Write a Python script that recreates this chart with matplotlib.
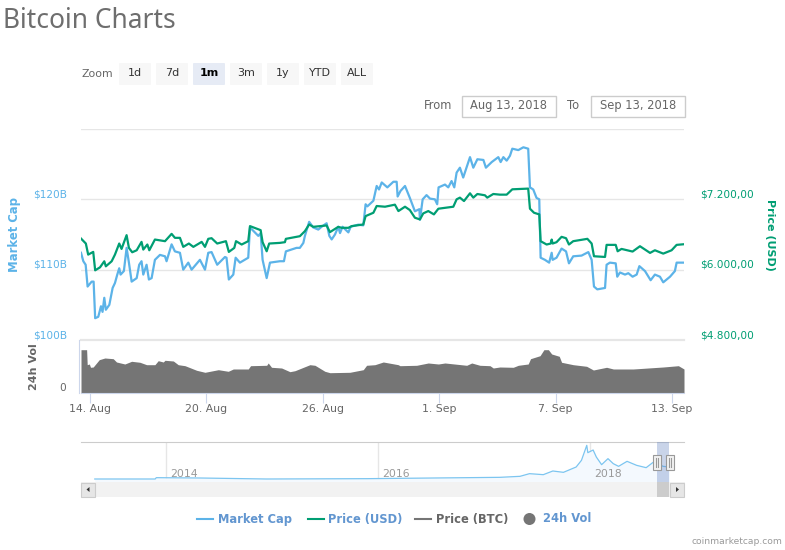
import matplotlib
matplotlib.use('Agg')
import matplotlib.pyplot as plt
from matplotlib.patches import Rectangle, FancyBboxPatch, Circle, Polygon
from matplotlib.transforms import ScaledTranslation

blue = '#5cb3e8'
green = '#009e73'
gray = '#757575'
text_gray = '#666666'
axis_blue = '#ccd6eb'
legend_blue = '#6296d0'

# days counted from 14 Aug 2018
cap_days = [-0.46, -0.34, -0.22, -0.12, 0.09, 0.19, 0.27, 0.43, 0.57, 0.65, 0.74, 0.82, 1.0, 1.17, 1.29, 1.41, 1.51, 1.58, 1.75, 1.89, 2.01, 2.15, 2.41, 2.54, 2.66, 2.75, 2.92, 3.04, 3.18, 3.35, 3.61, 3.87, 3.95, 4.21, 4.38, 4.64, 4.81, 5.07, 5.24, 5.67, 5.93, 6.1, 6.27, 6.56, 6.96, 7.04, 7.16, 7.39, 7.51, 7.73, 8.16, 8.25, 8.68, 8.8, 8.9, 9.11, 9.28, 9.79, 10.0, 10.1, 10.65, 10.82,
            11.0, 11.08, 11.3, 11.51, 11.77, 11.94, 12.2, 12.34, 12.46, 12.63, 12.8, 12.89, 13.02, 13.32, 13.44, 13.83, 14.09, 14.21, 14.3, 14.61, 14.78, 14.9, 15.04, 15.33, 15.64, 15.81, 15.86, 16.01, 16.24, 16.49, 16.75, 16.98, 17.01, 17.15, 17.35, 17.53, 17.78, 17.9, 17.97, 18.3, 18.47, 18.64, 18.78, 18.9, 19.07, 19.24, 19.59, 19.76, 19.97, 20.28, 20.41, 20.71, 21.05, 21.17, 21.31, 21.48, 21.65, 21.77, 22.08, 22.34, 22.59,
            22.68, 22.85, 23.02, 23.16, 23.23, 23.45, 23.67, 23.8, 23.85, 24.05, 24.31, 24.54, 24.69, 24.91, 25.34, 25.69, 25.86, 25.98, 26.15, 26.55, 26.63, 26.8, 27.1, 27.18, 27.32, 27.58, 27.75, 27.97, 28.18, 28.32, 28.61, 28.9, 29.12, 29.38, 29.55, 29.9, 30.15, 30.24, 30.62]
cap_values = [112.4, 111.2, 110.7, 107.6, 108.3, 108.3, 103.1, 103.3, 104.8, 104.0, 106.0, 104.3, 105.0, 107.4, 108.1, 109.3, 110.2, 109.3, 109.8, 113.1, 111.0, 108.3, 108.8, 110.7, 111.2, 109.3, 110.7, 108.6, 108.8, 111.4, 112.1, 111.9, 111.2, 113.6, 112.6, 112.4, 110.0, 111.0, 110.0, 111.4, 110.0, 112.4, 112.5, 110.7, 111.8, 111.7, 108.6, 109.3, 111.7, 111.0, 111.7, 116.0, 114.8, 115.2, 111.4, 108.8, 111.0, 111.2, 111.2, 112.6, 113.1, 113.1,
              113.8, 114.8, 116.8, 116.0, 115.7, 116.1, 116.6, 114.8, 114.3, 115.0, 116.1, 115.2, 116.1, 115.3, 116.1, 116.4, 116.3, 119.3, 119.0, 119.8, 121.9, 121.4, 122.4, 121.7, 122.5, 122.5, 120.4, 121.2, 121.9, 120.2, 118.3, 118.6, 117.1, 120.0, 120.6, 120.1, 120.0, 119.3, 121.7, 122.1, 121.7, 122.6, 121.7, 123.8, 124.5, 123.1, 126.0, 124.5, 125.7, 125.6, 124.5, 125.3, 126.0, 125.3, 126.0, 125.5, 126.2, 127.2, 127.0, 127.4, 127.2,
              121.7, 121.4, 120.2, 120.0, 111.7, 111.4, 111.0, 112.4, 111.4, 111.7, 113.0, 112.6, 110.9, 111.9, 112.0, 112.5, 111.4, 107.6, 107.2, 107.4, 110.7, 111.0, 110.9, 109.0, 109.6, 109.3, 109.5, 109.0, 109.3, 110.5, 109.8, 108.5, 109.3, 109.0, 108.2, 109.0, 109.8, 111.0, 111.0]

price_days = [-0.46, -0.21, -0.09, 0.17, 0.27, 0.52, 0.74, 0.82, 1.12, 1.29, 1.51, 1.63, 1.89, 2.01, 2.18, 2.41, 2.66, 2.75, 2.96, 3.06, 3.35, 3.87, 4.21, 4.38, 4.64, 4.81, 5.1, 5.33, 5.76, 5.93, 6.1, 6.27, 6.56, 7.01, 7.16, 7.44, 7.53, 7.82, 8.16, 8.25, 8.8, 8.9, 9.11, 9.24, 9.79, 10.05, 10.1, 10.82,
              11.08, 11.3, 11.51, 12.2, 12.37, 12.8, 12.97, 13.32, 13.49, 14.09, 14.21, 14.61, 14.78, 15.21, 15.72, 15.9, 16.24, 16.49, 16.75, 17.01, 17.18, 17.44, 17.73, 17.96, 18.73, 18.9, 19.07, 19.28, 19.59, 19.76, 19.97, 20.36, 20.48, 20.79, 21.13, 21.48, 21.77, 22.59,
              22.68, 22.89, 23.16, 23.23, 23.54, 23.75, 23.8, 23.85, 24.05, 24.31, 24.54, 24.69, 24.91, 25.64, 25.86, 25.98, 26.55, 26.63, 27.1, 27.2, 27.4, 27.97, 28.35, 28.87, 29.12, 29.55, 29.98, 30.24, 30.62]
price_values = [6531, 6446, 6257, 6303, 5989, 6040, 6143, 6057, 6143, 6257, 6446, 6354, 6589, 6371, 6297, 6331, 6474, 6343, 6429, 6331, 6514, 6486, 6611, 6543, 6543, 6389, 6446, 6389, 6474, 6389, 6526, 6537, 6446, 6486, 6303, 6371, 6486, 6429, 6486, 6743, 6674, 6469, 6314, 6446, 6457, 6469, 6526, 6571,
                6657, 6771, 6731, 6754, 6640, 6731, 6714, 6714, 6743, 6771, 6914, 6971, 7086, 7074, 7109, 7000, 7074, 7017, 6886, 6857, 6960, 7000, 6943, 7040, 7074, 7200, 7229, 7171, 7303, 7229, 7291, 7269, 7229, 7291, 7280, 7280, 7371, 7383,
                7040, 6971, 6943, 6486, 6429, 6446, 6514, 6446, 6469, 6560, 6537, 6429, 6486, 6526, 6446, 6229, 6217, 6423, 6423, 6314, 6354, 6309, 6400, 6286, 6331, 6274, 6331, 6423, 6434]

vol_days = [-0.46, -0.17, -0.14, -0.03, 0.03, 0.17, 0.48, 0.77, 1.2, 1.37, 1.8, 2.15, 2.58, 2.92, 3.35, 3.52, 3.78, 3.87, 4.3, 4.55, 4.9, 5.5, 5.93, 6.62, 7.13, 7.39, 8.16, 8.28, 9.11, 9.19, 9.36, 9.88, 10.31, 10.57, 11.34, 11.6, 12.11, 12.37, 13.4, 14.09, 14.26, 14.69, 15.12, 15.89,
            15.98, 16.84, 17.44, 17.96, 18.3, 19.42, 19.68, 20.1, 20.62, 20.79, 21.13, 21.82, 22.08, 22.59, 22.71, 23.2, 23.4, 23.63, 23.8, 24.19, 24.31, 24.91, 25.6, 25.95, 26.63, 26.98, 28.0, 29.55, 30.33, 30.62]
vol_values = [4.33, 4.33, 2.83, 2.9, 2.57, 2.6, 3.33, 3.5, 3.43, 3.1, 2.9, 3.17, 3.07, 2.83, 2.83, 3.23, 3.1, 3.27, 3.2, 2.83, 2.73, 2.27, 2.07, 2.33, 2.17, 2.4, 2.4, 2.73, 2.77, 3.0, 2.57, 2.5, 2.13, 2.23, 2.83, 2.77, 2.17, 2.03, 2.07, 2.33, 2.77, 2.83, 3.1, 2.83,
              2.73, 2.77, 3.0, 2.9, 3.0, 2.77, 3.0, 2.77, 2.73, 2.5, 2.6, 2.57, 2.77, 2.9, 3.43, 3.73, 4.33, 4.33, 3.9, 3.67, 3.07, 2.83, 2.67, 2.3, 2.57, 2.4, 2.4, 2.6, 2.73, 2.4]

overview_years = [2013.33, 2013.9, 2013.91, 2014.32, 2014.95, 2015.9, 2016.21, 2016.84, 2017.15, 2017.34, 2017.43, 2017.56, 2017.65, 2017.75, 2017.87, 2017.92, 2017.97, 2017.98, 2018.03, 2018.06, 2018.11, 2018.17, 2018.22, 2018.27, 2018.35, 2018.44, 2018.53, 2018.6, 2018.69, 2018.75]
overview_caps = [27, 27, 39, 36, 27, 30, 33, 39, 42, 51, 75, 66, 99, 87, 135, 195, 330, 264, 288, 225, 156, 210, 165, 141, 186, 150, 129, 180, 141, 135]

date_ticks = [0, 6, 12, 18, 24, 30]
date_labels = ['14. Aug', '20. Aug', '26. Aug', '1. Sep', '7. Sep', '13. Sep']
cap_ticks = [100, 110, 120, 130]
cap_labels = ['$100B', '$110B', '$120B', '']
price_ticks = [4800, 6000, 7200, 8400]
price_labels = ['$4.800,00', '$6.000,00', '$7.200,00', '']
overview_ticks = [2014, 2016, 2018]
zoom_buttons = ['1d', '7d', '1m', '3m', '1y', 'YTD', 'ALL']
W, H = 785, 550


def pixelAxes(fig, left, top, right, bottom):
    return fig.add_axes([left / W, 1 - bottom / H, (right - left) / W, (bottom - top) / H])


def hideSpines(ax):
    for spine in ax.spines.values():
        spine.set_visible(False)


fig = plt.figure(figsize=(W / 100, H / 100), dpi=100)

# main panel
ax = pixelAxes(fig, 81, 129, 684, 340)
hideSpines(ax)
ax.set_xlim(-0.46, 30.62)
ax.set_ylim(100, 130)
ax.set_xticks([])
ax.set_yticks(cap_ticks)
ax.set_yticklabels(cap_labels, color=blue, fontsize=7.6)
ax.tick_params(axis='y', length=0, pad=10)
ax.grid(axis='y', color='#e6e6e6', linewidth=1)
ax.set_axisbelow(True)
ax.plot(cap_days, cap_values, color=blue, linewidth=1.6)

ax2 = ax.twinx()
hideSpines(ax2)
ax2.set_ylim(4800, 8400)
ax2.set_yticks(price_ticks)
ax2.set_yticklabels(price_labels, color=green, fontsize=7.6)
ax2.tick_params(axis='y', length=0, pad=11.5)
ax2.plot(price_days, price_values, color=green, linewidth=1.6)

# volume panel
vol = pixelAxes(fig, 81, 340, 684, 393)
hideSpines(vol)
vol.spines['bottom'].set_visible(True)
vol.spines['bottom'].set_color(axis_blue)
vol.spines['top'].set_visible(True)
vol.spines['top'].set_color('#e6e6e6')
vol.spines['top'].set_linewidth(1.6)
vol.set_xlim(-0.46, 30.62)
vol.set_ylim(0, 5.3)
vol.fill_between(vol_days, vol_values, color=gray, linewidth=0)
vol.set_yticks([0])
vol.set_yticklabels(['0'], color=text_gray, fontsize=7.6)
vol.tick_params(axis='y', length=0, pad=11)
vol.set_xticks(date_ticks)
vol.set_xticklabels(date_labels, color=text_gray, fontsize=7.8)
vol.tick_params(axis='x', length=7.2, width=0.8, color=axis_blue, pad=1)

# y labels sit above their grid lines
shift = ScaledTranslation(0, 6 / 100, fig.dpi_scale_trans)
for lbl in ax.get_yticklabels() + ax2.get_yticklabels() + vol.get_yticklabels():
    lbl.set_transform(lbl.get_transform() + shift)

# navigator
nav = pixelAxes(fig, 81, 442, 684, 482)
hideSpines(nav)
nav.spines['top'].set_visible(True)
nav.spines['top'].set_color('#cccccc')
nav.set_xlim(2013.2, 2018.887)
nav.set_ylim(0, 360)
nav.set_yticks([])
nav.set_xticks(overview_ticks)
nav.tick_params(axis='x', length=0, labelbottom=False)
nav.grid(axis='x', color='#e6e6e6', linewidth=1)
nav.set_axisbelow(True)
nav.fill_between(overview_years, overview_caps, color='#f4f9fe', linewidth=0)
nav.plot(overview_years, overview_caps, color='#7cc5f0', linewidth=0.9)
for year in overview_ticks:
    nav.annotate(str(year), xy=(year, 0), xytext=(3, 2.5), textcoords='offset points', color='#999999', fontsize=7.8, va='bottom')

# page chrome drawn in pixel coordinates
ui = fig.add_axes([0, 0, 1, 1], zorder=5)
ui.set_xlim(0, W)
ui.set_ylim(H, 0)
ui.axis('off')
ui.patch.set_alpha(0)

ui.text(3, 21, 'Bitcoin Charts', color='#6e6e6e', fontsize=19, family='Noto Sans', va='center')
ui.text(82, 74, 'Zoom', color=text_gray, fontsize=7.8, va='center')
for i, name in enumerate(zoom_buttons):
    x0 = 119 + 37 * i
    active = name == '1m'
    ui.add_patch(FancyBboxPatch((x0 + 1, 64), 30, 20, boxstyle='round,pad=1', facecolor='#e6ebf5' if active else '#f7f7f7', edgecolor='none'))
    ui.text(x0 + 16, 73, name, ha='center', va='center', fontsize=8, color='black' if active else '#333333', fontweight='bold' if active else 'normal')

ui.text(424, 105.5, 'From', color=text_gray, fontsize=8.3, va='center')
ui.text(567, 105.5, 'To', color=text_gray, fontsize=8.3, va='center')
for x0, label in [(461, 'Aug 13, 2018'), (590, 'Sep 13, 2018')]:
    ui.add_patch(Rectangle((x0 + 0.5, 95.5), 94.5, 21, facecolor='white', edgecolor='#cccccc', linewidth=1))
    ui.text(x0 + 48, 105.5, label, ha='center', va='center', color=text_gray, fontsize=8.3)

ui.text(15, 234.5, 'Market Cap', rotation=90, color=blue, fontsize=8.4, fontweight='bold', ha='center', va='center')
ui.text(770, 235, 'Price (USD)', rotation=-90, color=green, fontsize=8, fontweight='bold', ha='center', va='center')
ui.text(34, 367, '24h Vol', rotation=90, color=text_gray, fontsize=8, fontweight='bold', ha='center', va='center')
ui.plot([78.5, 78.5], [340, 393], color=axis_blue, linewidth=0.8)

# scrollbar and range selector
ui.add_patch(Rectangle((80.5, 482), 604, 15, facecolor='#f2f2f2', edgecolor='none'))
ui.add_patch(Rectangle((657, 442), 12, 40, facecolor='#6685c2', alpha=0.35, edgecolor='none'))
ui.add_patch(Rectangle((657, 482), 12, 15, facecolor='#cccccc', edgecolor='none'))
ui.add_patch(Rectangle((80.5, 482.5), 14, 14.5, facecolor='#e6e6e6', edgecolor='#cccccc', linewidth=0.8))
ui.add_patch(Rectangle((669.5, 482.5), 14.5, 14.5, facecolor='#e6e6e6', edgecolor='#cccccc', linewidth=0.8))
ui.add_patch(Polygon([(89.5, 487), (89.5, 492), (86.5, 489.5)], facecolor='#333333', edgecolor='none'))
ui.add_patch(Polygon([(676, 487), (676, 492), (679, 489.5)], facecolor='#333333', edgecolor='none'))
for x0 in [652.5, 665.5]:
    ui.add_patch(Rectangle((x0, 454.5), 8, 15.5, facecolor='#f2f2f2', edgecolor='#999999', linewidth=0.8))
    ui.plot([x0 + 3, x0 + 3], [458, 467], color='#999999', linewidth=0.8)
    ui.plot([x0 + 5, x0 + 5], [458, 467], color='#999999', linewidth=0.8)

# legend
for x0, color, label, text_x, text_color in [(197, blue, 'Market Cap', 218, legend_blue), (308, green, 'Price (USD)', 328, legend_blue), (415, gray, 'Price (BTC)', 436, text_gray)]:
    ui.plot([x0, x0 + 16], [519, 519], color=color, linewidth=1.5)
    ui.text(text_x, 519, label, color=text_color, fontsize=8.3, fontweight='bold', va='center')
ui.add_patch(Circle((529.5, 519), 6, facecolor=gray, edgecolor='none'))
ui.text(543, 519, '24h Vol', color=legend_blue, fontsize=8.3, fontweight='bold', va='center')
ui.text(782, 541, 'coinmarketcap.com', color='#999999', fontsize=6.6, ha='right', va='center')

plt.savefig('out.png', dpi=100)
